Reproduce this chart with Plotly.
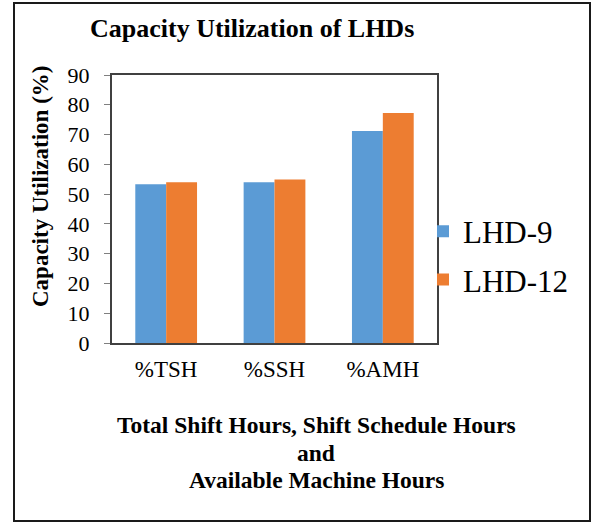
import plotly.graph_objects as go

categories = ["%TSH", "%SSH", "%AMH"]
lhd9 = [53.3, 54.0, 71.2]
lhd12 = [54.0, 54.9, 77.2]
series_names = ["LHD-9", "LHD-12"]
colors = ["#5B9BD5", "#ED7D31"]
y_ticks = list(range(0, 100, 10))
x_title_lines = ["Total Shift Hours, Shift Schedule Hours", "and", "Available Machine Hours"]

FONT = "Liberation Serif"

# plot area in page pixels
PX0, PX1, PY0, PY1 = 112, 437, 75, 343
W = PX1 - PX0
H = PY1 - PY0


def px(x):
    return (x - PX0) / W


def py(y):
    return (PY1 - y) / H


fig = go.Figure()
for name, vals, col, grp in zip(series_names, [lhd9, lhd12], colors, ["a", "b"]):
    fig.add_trace(go.Bar(x=categories, y=vals, name=name, marker_color=col,
                         marker_line_width=0, legendgroup=grp))

fig.update_layout(
    width=592, height=524,
    margin=dict(l=PX0, r=592 - PX1, t=PY0, b=524 - PY1, autoexpand=False),
    paper_bgcolor="white", plot_bgcolor="white",
    barmode="group", bargap=0.43, bargroupgap=0,
    font=dict(family=FONT, color="black"),
    showlegend=True,
    legend=dict(x=px(423), y=py(255.5), xanchor="left", yanchor="middle",
                font=dict(size=31, family=FONT, color="black"), tracegroupgap=5,
                itemwidth=30, bgcolor="rgba(0,0,0,0)"),
)
fig.update_xaxes(showline=True, linecolor="#404040", linewidth=2, mirror=True,
                 ticks="", tickfont=dict(size=23, family=FONT), ticklabelstandoff=4,
                 showgrid=False)
fig.update_yaxes(range=[0, 90], tickvals=y_ticks, showline=True,
                 linecolor="#404040", linewidth=2, mirror=True,
                 ticks="outside", ticklen=6, tickcolor="#808080",
                 tickfont=dict(size=22, family=FONT), ticklabelstandoff=10,
                 showgrid=False, zeroline=False)

fig.add_annotation(text="<b>Capacity Utilization of LHDs</b>", xref="paper", yref="paper",
                   x=px(252), y=py(28), xanchor="center", yanchor="middle",
                   showarrow=False, font=dict(size=26, family=FONT))
fig.add_annotation(text="<b>Capacity Utilization (%)</b>", xref="paper", yref="paper",
                   x=px(40), y=py(187), xanchor="center", yanchor="middle",
                   textangle=-90, showarrow=False, font=dict(size=23, family=FONT))
for line, yc in zip(x_title_lines, [425, 453, 480]):
    fig.add_annotation(text="<b>" + line + "</b>", xref="paper", yref="paper",
                       x=px(316), y=py(yc), xanchor="center", yanchor="middle",
                       showarrow=False, font=dict(size=23.5, family=FONT))

fig.add_shape(type="rect", xref="paper", yref="paper",
              x0=px(14), x1=px(590), y0=py(521), y1=py(3),
              line=dict(color="#1a1a1a", width=2), layer="below")

fig.write_html("out.html", config={"displayModeBar": False},
               post_script="document.body.style.margin='0';document.documentElement.style.overflow='hidden';")
